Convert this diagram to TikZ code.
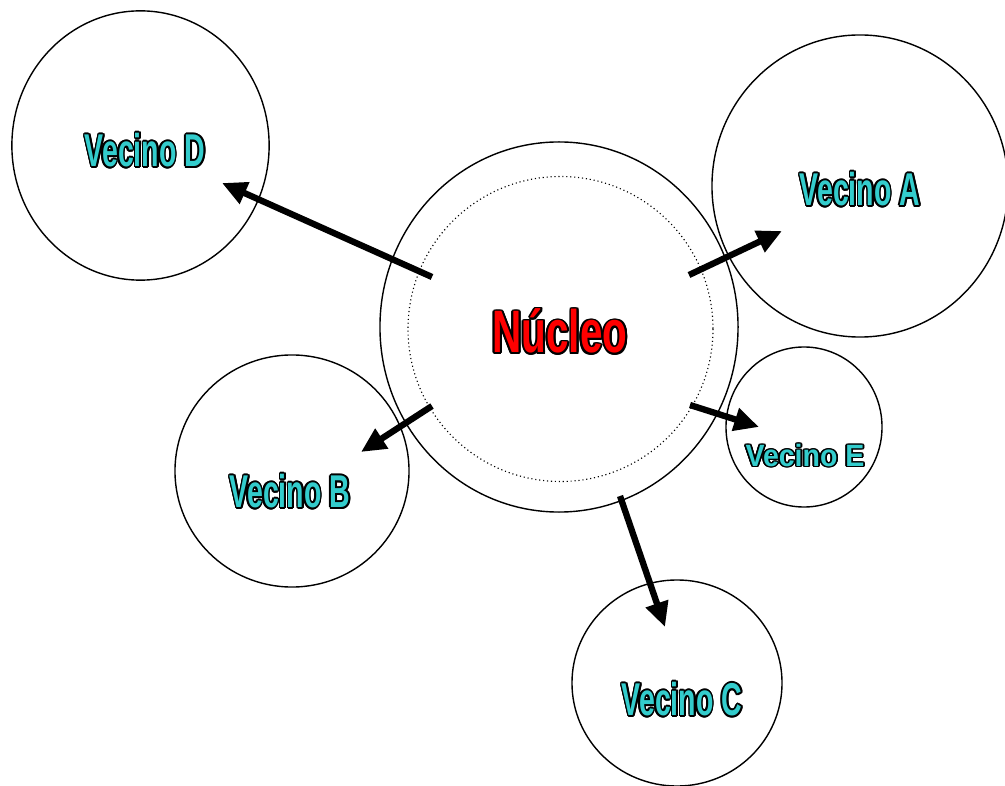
\documentclass[tikz,border=0pt]{standalone}
\usepackage{fontspec}
\usepackage{graphicx}
\usepackage{contour}
\usetikzlibrary{arrows.meta,shapes.geometric}
\newfontfamily\wordart[FakeStretch=0.62]{Liberation Sans}
\definecolor{vecinoteal}{RGB}{51,204,204}
\definecolor{nucleored}{RGB}{255,0,0}
\contourlength{1.2pt}

\tikzset{
    ring/.style={draw, ellipse, line width=1pt, inner sep=0pt},
    push/.style={line width=4.5pt, -{Triangle[length=0.62cm,width=0.56cm]}},
    vecino/.style={inner sep=0pt, font=\wordart\bfseries\fontsize{32.7}{36}\selectfont}
}

\begin{document}
\begin{tikzpicture}[x=0.025cm, y=-0.025cm]
    \useasboundingbox (0,0) rectangle (1005,786);

    % Nucleus
    \node [ring, minimum width=8.95cm, minimum height=9.25cm] (nucleo) at (559,327) {};
    \draw [dotted, line width=0.8pt] (560.5,329) circle [radius=152.5];
    \node [vecino, font=\wordart\bfseries\fontsize{42.6}{46}\selectfont] (nucleotxt) at (560,332)
        {\scalebox{1.09}[1]{\contour{black}{\textcolor{nucleored}{Núcleo}}}};

    % Neighbours
    \node [ring, minimum width=6.43cm, minimum height=6.73cm] (vecD) at (140.5,145.5) {};
    \node [ring, minimum width=7.4cm, minimum height=7.55cm] (vecA) at (860,186) {};
    \node [ring, minimum width=5.85cm, minimum height=5.8cm] (vecB) at (292,471) {};
    \node [ring, minimum width=3.9cm, minimum height=4.0cm] (vecE) at (804,427) {};
    \node [ring, minimum width=5.25cm, minimum height=5.15cm] (vecC) at (677,683) {};

    \node [vecino] (txtD) at (145,151) {\contour{black}{\textcolor{vecinoteal}{Vecino D}}};
    \node [vecino] (txtA) at (860,190) {\contour{black}{\textcolor{vecinoteal}{Vecino A}}};
    \node [vecino] (txtB) at (290,492) {\contour{black}{\textcolor{vecinoteal}{Vecino B}}};
    \node [vecino] (txtC) at (682,700) {\contour{black}{\textcolor{vecinoteal}{Vecino C}}};
    \node [vecino] (txtE) at (805,456) {\scalebox{1}[0.67]{\contour{black}{\textcolor{vecinoteal}{Vecino E}}}};

    % Arrows out of the nucleus
    \coordinate (fromD) at (432,277);
    \coordinate (toD) at (222,183);
    \coordinate (fromA) at (689,275);
    \coordinate (toA) at (782,231);
    \coordinate (fromE) at (690,405);
    \coordinate (toE) at (759,427);
    \coordinate (fromB) at (432,406);
    \coordinate (toB) at (361,452);
    \coordinate (fromC) at (620,496);
    \coordinate (toC) at (665,627);

    \draw [push] (fromD) -- (toD);
    \draw [push] (fromA) -- (toA);
    \draw [push] (fromE) -- (toE);
    \draw [push] (fromB) -- (toB);
    \draw [push] (fromC) -- (toC);
\end{tikzpicture}
\end{document}
